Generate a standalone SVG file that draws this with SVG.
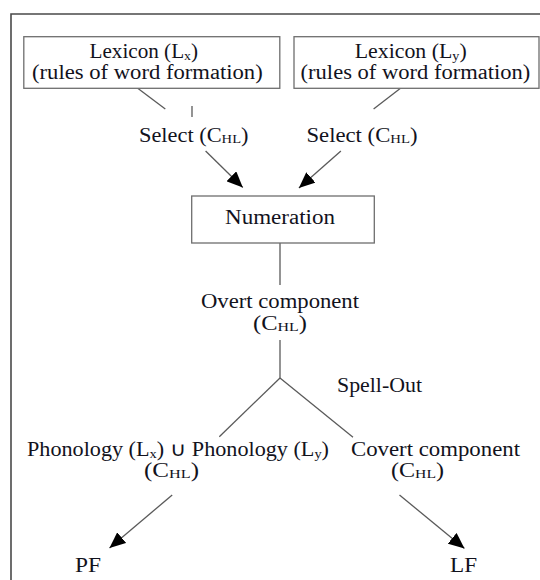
<svg xmlns="http://www.w3.org/2000/svg" width="540" height="580" viewBox="0 0 540 580">
  <style>
    .frame { fill: none; stroke: #4a4a4a; stroke-width: 1.6; }
    .box { fill: #ffffff; stroke: #6e6e6e; stroke-width: 1.3; }
    .lbl { font-family: "Liberation Serif", "Times New Roman", serif; font-size: 20px; fill: #12121c; }
    .sub { font-size: 13px; }
    .edge { fill: none; stroke: #5a5a5a; stroke-width: 1.3; }
    .arrow { marker-end: url(#head); }
  </style>
  <defs>
    <marker id="head" markerUnits="userSpaceOnUse" markerWidth="16" markerHeight="14" refX="16" refY="7" orient="auto" viewBox="0 0 16 14">
      <path d="M0,0 L16,7 L0,14 z" fill="#000000"/>
    </marker>
  </defs>

  <rect width="540" height="580" fill="#ffffff"/>
  <!-- open outer frame -->
  <path class="frame" d="M11,580 V14 H540"/>

  <g id="connectors">
    <line class="edge" x1="137.7" y1="88.3" x2="165.3" y2="109"/>
    <line class="edge" x1="192" y1="106" x2="192" y2="117"/>
    <line class="edge" x1="400.5" y1="88.3" x2="373.6" y2="109"/>
    <line class="edge arrow" x1="205.6" y1="151" x2="242.8" y2="187.5"/>
    <line class="edge arrow" x1="340.9" y1="151" x2="298.9" y2="188"/>
    <line class="edge" x1="280" y1="243" x2="280" y2="285"/>
    <line class="edge" x1="280" y1="340" x2="280" y2="378"/>
    <line class="edge" x1="280" y1="378" x2="219.3" y2="436.7"/>
    <line class="edge" x1="280" y1="378" x2="353" y2="437.3"/>
    <line class="edge arrow" x1="172.2" y1="495" x2="109.5" y2="548"/>
    <line class="edge arrow" x1="399.5" y1="495" x2="464.5" y2="548.5"/>
  </g>

  <g id="lexicon-x">
    <rect class="box" x="23.8" y="36.7" width="256" height="51.6"/>
    <text class="lbl" x="89.5" y="58.3" textLength="108.5" lengthAdjust="spacingAndGlyphs">Lexicon (L<tspan class="sub" dy="2">x</tspan><tspan dy="-2">)</tspan></text>
    <text class="lbl" x="32" y="79" textLength="230.7" lengthAdjust="spacingAndGlyphs">(rules of word formation)</text>
  </g>

  <g id="lexicon-y">
    <rect class="box" x="294" y="36.7" width="245" height="51.6"/>
    <text class="lbl" x="354.7" y="58.3" textLength="112" lengthAdjust="spacingAndGlyphs">Lexicon (L<tspan class="sub" dy="2">y</tspan><tspan dy="-2">)</tspan></text>
    <text class="lbl" x="300.6" y="79" textLength="229.7" lengthAdjust="spacingAndGlyphs">(rules of word formation)</text>
  </g>

  <g id="select-x">
    <text class="lbl" x="139" y="141.7" textLength="109.5" lengthAdjust="spacingAndGlyphs">Select (C<tspan class="sub" dy="1">HL</tspan><tspan dy="-1">)</tspan></text>
  </g>

  <g id="select-y">
    <text class="lbl" x="306.5" y="141.7" textLength="111" lengthAdjust="spacingAndGlyphs">Select (C<tspan class="sub" dy="1">HL</tspan><tspan dy="-1">)</tspan></text>
  </g>

  <g id="numeration">
    <rect class="box" x="191.7" y="196" width="182.6" height="47"/>
    <text class="lbl" x="225" y="224" textLength="110" lengthAdjust="spacingAndGlyphs">Numeration</text>
  </g>

  <g id="overt">
    <text class="lbl" x="201" y="308" textLength="158" lengthAdjust="spacingAndGlyphs">Overt component</text>
    <text class="lbl" x="253" y="330" textLength="54" lengthAdjust="spacingAndGlyphs">(C<tspan class="sub" dy="1">HL</tspan><tspan dy="-1">)</tspan></text>
  </g>

  <g id="spell-out">
    <text class="lbl" x="337" y="391.7" textLength="85" lengthAdjust="spacingAndGlyphs">Spell-Out</text>
  </g>

  <g id="phonology">
    <text class="lbl" x="27" y="455.7" textLength="302" lengthAdjust="spacingAndGlyphs">Phonology (L<tspan class="sub" dy="2">x</tspan><tspan dy="-2">) ∪ Phonology (L</tspan><tspan class="sub" dy="2">y</tspan><tspan dy="-2">)</tspan></text>
    <text class="lbl" x="144" y="476.7" textLength="55" lengthAdjust="spacingAndGlyphs">(C<tspan class="sub" dy="1">HL</tspan><tspan dy="-1">)</tspan></text>
  </g>

  <g id="covert">
    <text class="lbl" x="351" y="455.7" textLength="169" lengthAdjust="spacingAndGlyphs">Covert component</text>
    <text class="lbl" x="391" y="476.7" textLength="53" lengthAdjust="spacingAndGlyphs">(C<tspan class="sub" dy="1">HL</tspan><tspan dy="-1">)</tspan></text>
  </g>

  <g id="pf">
    <text class="lbl" x="75" y="571.7" textLength="26" lengthAdjust="spacingAndGlyphs">PF</text>
  </g>

  <g id="lf">
    <text class="lbl" x="450" y="571.7" textLength="27" lengthAdjust="spacingAndGlyphs">LF</text>
  </g>
</svg>
